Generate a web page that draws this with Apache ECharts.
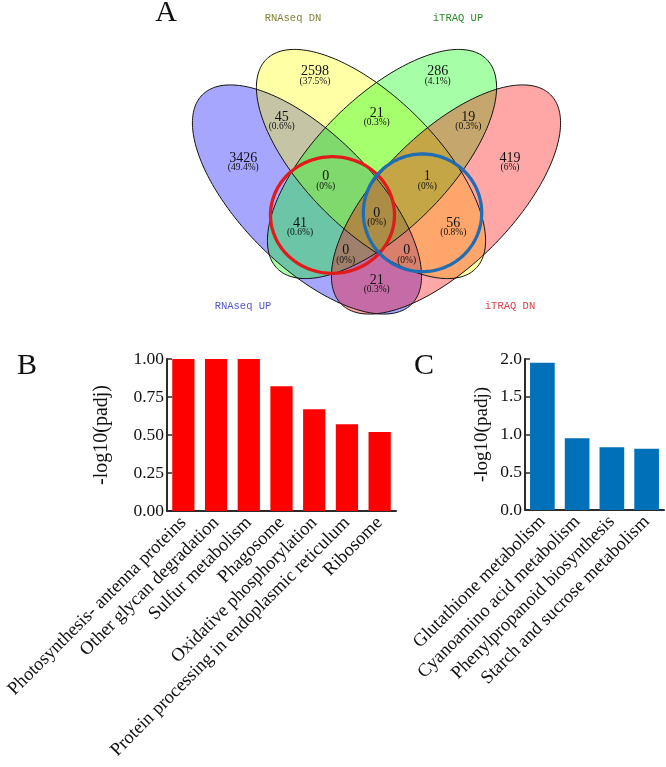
<!DOCTYPE html>
<html><head><meta charset="utf-8">
<script src="https://cdn.jsdelivr.net/npm/echarts@6/dist/echarts.min.js"></script>
<style>html,body{margin:0;padding:0;background:#fff}#c{width:666px;height:767px}</style>
</head><body><div id="c"></div>
<script>
// ---------- DATA ----------
const vennSets = ['RNAseq UP', 'RNAseq DN', 'iTRAQ UP', 'iTRAQ DN'];
const vennRegions = ['A', 'B', 'C', 'D', 'AB', 'BC', 'CD', 'ABC', 'BCD', 'AC', 'ABCD', 'BD', 'ACD', 'ABD', 'AD'];
const vennCounts = [3426, 2598, 286, 419, 45, 21, 19, 0, 1, 41, 0, 56, 0, 0, 21];
const vennPercents = ['49.4%', '37.5%', '4.1%', '6%', '0.6%', '0.3%', '0.3%', '0%', '0%', '0.6%', '0%', '0.8%', '0%', '0%', '0.3%'];

const bCategories = ['Photosynthesis- antenna proteins', 'Other glycan degradation', 'Sulfur metabolism', 'Phagosome', 'Oxidative phosphorylation', 'Protein processing in endoplasmic reticulum', 'Ribosome'];
const bValues = [1.00, 1.00, 1.00, 0.82, 0.67, 0.57, 0.52];
const bTicks = ['0.00', '0.25', '0.50', '0.75', '1.00'];

const cCategories = ['Glutathione metabolism', 'Cyanoamino acid metabolism', 'Phenylpropanoid biosynthesis', 'Starch and sucrose metabolism'];
const cValues = [1.95, 0.95, 0.83, 0.81];
const cTicks = ['0.0', '0.5', '1.0', '1.5', '2.0'];

const yName = '-log10(padj)';

// ---------- LAYOUT (venn local units) ----------
const ellipseGeom = [
  {cx: 131, cy: 169.5, rot: 45},
  {cx: 195, cy: 134, rot: 45},
  {cx: 206, cy: 134, rot: -45},
  {cx: 270, cy: 169.5, rot: -45}
];
const ELL_A = 148, ELL_B = 66;
const ellipseFill = ['rgba(0,0,255,0.35)', 'rgba(255,255,0,0.35)', 'rgba(0,255,0,0.35)', 'rgba(255,0,0,0.35)'];
const setNamePos = [[67, 276], [117, -12], [282, -12], [334, 276]];
const setNameColor = ['#5656d2', '#83833a', '#2f8a2f', '#d4454c'];
const regionPos = [
  [67.3, 128.3], [139, 41.7], [261.7, 41.7], [334, 128.3],
  [105.7, 87.3], [200.7, 83.3], [292.3, 87.3],
  [149.7, 146.7], [251.3, 146.7],
  [124, 193.3], [200.7, 183.3], [277.3, 193.3],
  [169.7, 220.7], [230.7, 220.7], [200.7, 250]
];
const rings = [
  {cx: 156.5, cy: 185, rx: 62, ry: 58.3, color: '#e01b1b'},
  {cx: 246.5, cy: 182.8, rx: 59.2, ry: 58.8, color: '#1f6db4'}
];

function ellPts(api, cx, cy, a, b, rotDeg) {
  const r = rotDeg * Math.PI / 180, pts = [];
  for (let k = 0; k < 240; k++) {
    const t = 2 * Math.PI * k / 240;
    const ex = a * Math.cos(t), ey = b * Math.sin(t);
    pts.push(api.coord([cx + ex * Math.cos(r) - ey * Math.sin(r), cy + ex * Math.sin(r) + ey * Math.cos(r)]));
  }
  return pts;
}

const SERIF = '"Liberation Serif", "Times New Roman", serif';
const axisCol = '#2b2b2b';

function barX(gridIndex, cats) {
  return {
    gridIndex, type: 'category', data: cats,
    axisLine: {show: true, lineStyle: {color: axisCol, width: 2}},
    axisTick: {show: true, inside: true, alignWithLabel: true, length: 5, lineStyle: {color: axisCol, width: 1.5}},
    axisLabel: {rotate: 45, interval: 0, margin: 9, fontFamily: SERIF, fontSize: 18.5, color: '#111', hideOverlap: false},
    splitLine: {show: false}
  };
}
function barY(gridIndex, max, interval, ticks, gap, nameSize) {
  return {
    gridIndex, type: 'value', min: 0, max, interval,
    axisLine: {show: true, lineStyle: {color: axisCol, width: 2}},
    axisTick: {show: true, inside: true, length: 5, lineStyle: {color: axisCol, width: 1.5}},
    axisLabel: {margin: 3, fontFamily: SERIF, fontSize: 17.5, color: '#111',
      formatter: v => ticks[Math.round(v / interval)]},
    splitLine: {show: false},
    name: yName, nameLocation: 'middle', nameGap: gap,
    nameTextStyle: {fontFamily: SERIF, fontSize: nameSize, color: '#111'}
  };
}

const chart = echarts.init(document.getElementById('c'));
chart.setOption({
  backgroundColor: '#fff',
  animation: false,
  grid: [
    {left: 176, top: 30, width: 400, height: 300, outerBoundsMode: 'none', containLabel: false},
    {left: 167, top: 359, width: 229, height: 152, outerBoundsMode: 'none', containLabel: false},
    {left: 525, top: 359, width: 139, height: 151, outerBoundsMode: 'none', containLabel: false}
  ],
  xAxis: [
    {gridIndex: 0, type: 'value', min: 0, max: 400, show: false},
    barX(1, bCategories),
    barX(2, cCategories)
  ],
  yAxis: [
    {gridIndex: 0, type: 'value', min: 0, max: 300, inverse: true, show: false},
    barY(1, 1, 0.25, bTicks, 55, 20),
    barY(2, 2, 0.5, cTicks, 33, 19)
  ],
  graphic: [
    {type: 'text', x: 166, y: 13, style: {text: 'A', font: '30px ' + SERIF, fill: '#111', align: 'center', verticalAlign: 'middle'}},
    {type: 'text', x: 27, y: 366, style: {text: 'B', font: '30px ' + SERIF, fill: '#111', align: 'center', verticalAlign: 'middle'}},
    {type: 'text', x: 424, y: 366, style: {text: 'C', font: '30px ' + SERIF, fill: '#111', align: 'center', verticalAlign: 'middle'}}
  ],
  series: [
    {
      type: 'custom', name: 'vennFill', xAxisIndex: 0, yAxisIndex: 0, silent: true, clip: false,
      data: vennSets.map((s, i) => [i, 0]),
      renderItem: (p, api) => {
        const g = ellipseGeom[p.dataIndex];
        return {type: 'polygon', shape: {points: ellPts(api, g.cx, g.cy, ELL_A, ELL_B, g.rot)},
          style: {fill: ellipseFill[p.dataIndex], stroke: null}};
      }
    },
    {
      type: 'custom', name: 'vennOutline', xAxisIndex: 0, yAxisIndex: 0, silent: true, clip: false,
      data: vennSets.map((s, i) => [i, 0]),
      renderItem: (p, api) => {
        const g = ellipseGeom[p.dataIndex];
        return {type: 'polygon', shape: {points: ellPts(api, g.cx, g.cy, ELL_A, ELL_B, g.rot)},
          style: {fill: null, stroke: '#111', lineWidth: 1}};
      }
    },
    {
      type: 'custom', name: 'rings', xAxisIndex: 0, yAxisIndex: 0, silent: true, clip: false,
      data: rings.map((r, i) => [i, 0]),
      renderItem: (p, api) => {
        const r = rings[p.dataIndex];
        return {type: 'polygon', shape: {points: ellPts(api, r.cx, r.cy, r.rx, r.ry, 0)},
          style: {fill: null, stroke: r.color, lineWidth: 3.3}};
      }
    },
    {
      type: 'custom', name: 'regionLabels', xAxisIndex: 0, yAxisIndex: 0, silent: true, clip: false,
      data: vennCounts.map((c, i) => [i, c]),
      renderItem: (p, api) => {
        const i = p.dataIndex;
        const pt = api.coord(regionPos[i]);
        return {type: 'group', children: [
          {type: 'text', x: pt[0], y: pt[1], style: {text: String(vennCounts[i]), font: '14px ' + SERIF, fill: '#111', align: 'center', verticalAlign: 'middle'}},
          {type: 'text', x: pt[0], y: pt[1] + 9.5, style: {text: '(' + vennPercents[i] + ')', font: '9.5px ' + SERIF, fill: '#111', align: 'center', verticalAlign: 'middle'}}
        ]};
      }
    },
    {
      type: 'custom', name: 'setNames', xAxisIndex: 0, yAxisIndex: 0, silent: true, clip: false,
      data: vennSets.map((s, i) => [i, 0]),
      renderItem: (p, api) => {
        const i = p.dataIndex;
        const pt = api.coord(setNamePos[i]);
        return {type: 'text', x: pt[0], y: pt[1], style: {text: vennSets[i], font: '10.5px "Liberation Mono", "DejaVu Sans Mono", monospace', fill: setNameColor[i], align: 'center', verticalAlign: 'middle'}};
      }
    },
    {
      type: 'bar', name: 'B', xAxisIndex: 1, yAxisIndex: 1, data: bValues,
      barCategoryGap: '32%', itemStyle: {color: '#ff0000'}
    },
    {
      type: 'bar', name: 'C', xAxisIndex: 2, yAxisIndex: 2, data: cValues,
      barCategoryGap: '29%', itemStyle: {color: '#0071b9'}
    }
  ]
});
</script></body></html>
